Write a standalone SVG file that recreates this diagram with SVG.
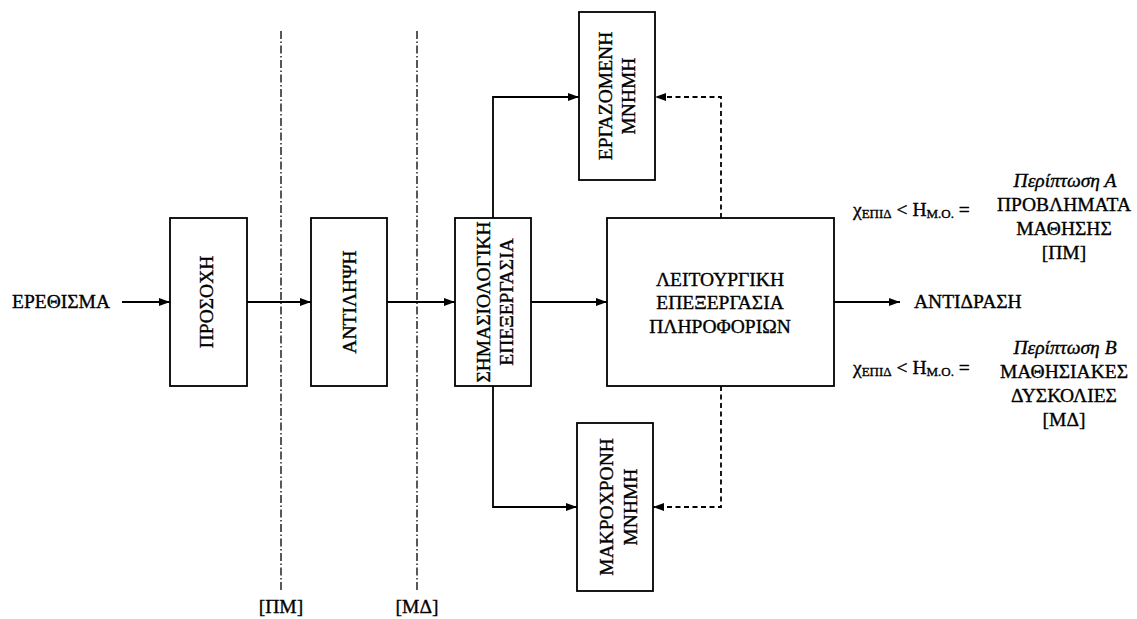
<svg xmlns="http://www.w3.org/2000/svg" width="1137" height="619" viewBox="0 0 1137 619">
<style>
text{font-family:"Liberation Serif","Times New Roman",serif;font-size:19.5px;fill:#000;stroke:#000;stroke-width:0.35}
.box{fill:#fff;stroke:#000;stroke-width:1.8}
.c{fill:none;stroke:#000;stroke-width:1.8}
.d{fill:none;stroke:#000;stroke-width:1.8;stroke-dasharray:5 3.5}
.dd{fill:none;stroke:#000;stroke-width:1.3;stroke-dasharray:8 2.5 1.5 2.5}
.m{text-anchor:middle}
.sub{font-size:13px}
.it{font-style:italic}
</style>
<defs>
<marker id="ah" markerUnits="userSpaceOnUse" markerWidth="12" markerHeight="9" refX="11" refY="4" orient="auto">
<path d="M0,0 L11,4 L0,8 z" fill="#000"/>
</marker>
</defs>
<g id="guides">
<line class="dd" x1="281" y1="31" x2="281" y2="590"/>
<line class="dd" x1="417" y1="31" x2="417" y2="590"/>
<text class="m" x="281" y="613">[ΠΜ]</text>
<text class="m" x="417" y="613">[ΜΔ]</text>
</g>
<g id="connectors">
<line class="c" x1="122" y1="302" x2="170" y2="302" marker-end="url(#ah)"/>
<line class="c" x1="247" y1="302" x2="311" y2="302" marker-end="url(#ah)"/>
<line class="c" x1="387" y1="302" x2="455" y2="302" marker-end="url(#ah)"/>
<line class="c" x1="531" y1="302" x2="607" y2="302" marker-end="url(#ah)"/>
<line class="c" x1="834" y1="302" x2="900" y2="302" marker-end="url(#ah)"/>
<polyline class="c" points="493,218 493,97 579,97" marker-end="url(#ah)"/>
<polyline class="c" points="493,386 493,507 577,507" marker-end="url(#ah)"/>
<polyline class="d" points="721,218 721,97 655,97" marker-end="url(#ah)"/>
<polyline class="d" points="721,386 721,507 653,507" marker-end="url(#ah)"/>
</g>
<g id="stimulus">
<text x="12" y="308">ΕΡΕΘΙΣΜΑ</text>
</g>
<g id="attention">
<rect class="box" x="170" y="218" width="77" height="168"/>
<text class="m" transform="translate(213,302) rotate(-90)">ΠΡΟΣΟΧΗ</text>
</g>
<g id="perception">
<rect class="box" x="311" y="218" width="76" height="168"/>
<text class="m" transform="translate(356,302) rotate(-90)">ΑΝΤΙΛΗΨΗ</text>
</g>
<g id="semantic">
<rect class="box" x="455" y="218" width="76" height="168"/>
<text class="m" transform="translate(490,302) rotate(-90)">ΣΗΜΑΣΙΟΛΟΓΙΚΗ</text>
<text class="m" transform="translate(513,302) rotate(-90)">ΕΠΕΞΕΡΓΑΣΙΑ</text>
</g>
<g id="working-memory">
<rect class="box" x="579" y="12" width="76" height="168"/>
<text class="m" transform="translate(612,96) rotate(-90)">ΕΡΓΑΖΟΜΕΝΗ</text>
<text class="m" transform="translate(635,96) rotate(-90)">ΜΝΗΜΗ</text>
</g>
<g id="long-term-memory">
<rect class="box" x="577" y="423" width="76" height="168"/>
<text class="m" transform="translate(613,507) rotate(-90)">ΜΑΚΡΟΧΡΟΝΗ</text>
<text class="m" transform="translate(637,507) rotate(-90)">ΜΝΗΜΗ</text>
</g>
<g id="functional">
<rect class="box" x="607" y="218" width="227" height="168"/>
<text class="m" x="720" y="286">ΛΕΙΤΟΥΡΓΙΚΗ</text>
<text class="m" x="720" y="309">ΕΠΕΞΕΡΓΑΣΙΑ</text>
<text class="m" x="720" y="333">ΠΛΗΡΟΦΟΡΙΩΝ</text>
</g>
<g id="response">
<text x="914" y="308">ΑΝΤΙΔΡΑΣΗ</text>
</g>
<g id="case-a">
<text x="853" y="216">χ<tspan class="sub" dy="2">ΕΠΙΔ</tspan><tspan dy="-2"> &lt; Η</tspan><tspan class="sub" dy="2">Μ.Ο.</tspan><tspan dy="-2"> =</tspan></text>
<text class="m it" x="1065" y="187">Περίπτωση Α</text>
<text class="m" x="1064" y="211">ΠΡΟΒΛΗΜΑΤΑ</text>
<text class="m" x="1064" y="235">ΜΑΘΗΣΗΣ</text>
<text class="m" x="1064" y="259">[ΠΜ]</text>
</g>
<g id="case-b">
<text x="853" y="374">χ<tspan class="sub" dy="2">ΕΠΙΔ</tspan><tspan dy="-2"> &lt; Η</tspan><tspan class="sub" dy="2">Μ.Ο.</tspan><tspan dy="-2"> =</tspan></text>
<text class="m it" x="1065" y="354">Περίπτωση Β</text>
<text class="m" x="1064" y="378">ΜΑΘΗΣΙΑΚΕΣ</text>
<text class="m" x="1064" y="402">ΔΥΣΚΟΛΙΕΣ</text>
<text class="m" x="1064" y="426">[ΜΔ]</text>
</g>
</svg>
